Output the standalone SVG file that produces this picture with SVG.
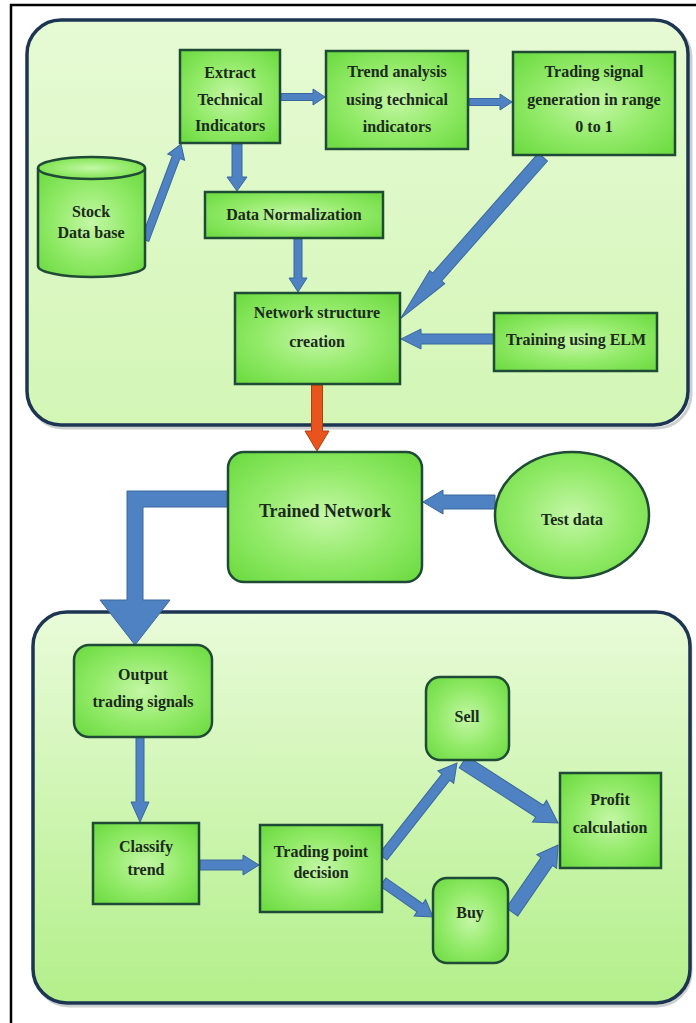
<svg xmlns="http://www.w3.org/2000/svg" width="696" height="1023" viewBox="0 0 696 1023">
  <defs>
    <radialGradient id="boxFill" cx="50%" cy="50%" r="65%">
      <stop offset="0" stop-color="#c4f7a6"/>
      <stop offset="0.55" stop-color="#92ea68"/>
      <stop offset="1" stop-color="#6fdc44"/>
    </radialGradient>
    <linearGradient id="panelTop" x1="0" y1="0" x2="0" y2="1">
      <stop offset="0" stop-color="#e6fad4"/>
      <stop offset="1" stop-color="#d3f6b6"/>
    </linearGradient>
    <linearGradient id="panelBottom" x1="0" y1="0" x2="0" y2="1">
      <stop offset="0" stop-color="#e9fbd9"/>
      <stop offset="1" stop-color="#b3ef8a"/>
    </linearGradient>
    <style>
      .panel { stroke: #1c3553; stroke-width: 3.5; }
      .shadow { fill: none; stroke: #9aa3a0; stroke-width: 3; opacity: 0.5; }
      .box { fill: url(#boxFill); stroke: #1f4a36; stroke-width: 2.5; }
      .lbl { font-family: "Liberation Serif", "Times New Roman", serif; font-weight: bold; font-size: 16px; fill: #1b2a1c; text-anchor: middle; }
      .big { font-size: 18px; }
      .arrow { fill: #4f82c2; stroke: #3a679e; stroke-width: 1; }
      .hot { fill: #e8541c; stroke: #b13e12; stroke-width: 1; }
      .frame { stroke: #000; stroke-width: 2.5; fill: none; }
    </style>
  </defs>

  <rect width="696" height="1023" fill="#ffffff"/>

  <!-- outer frame edges -->
  <path class="frame" d="M11,1023 V5 H696"/>

  <!-- processing panels -->
  <g id="panel-training">
    <rect class="shadow" x="29" y="23" width="662" height="405" rx="34"/>
    <rect class="panel" x="27" y="20" width="661" height="405" rx="34" fill="url(#panelTop)"/>
  </g>
  <g id="panel-trading">
    <rect class="shadow" x="35" y="615" width="656" height="391" rx="34"/>
    <rect class="panel" x="33" y="612" width="657" height="391" rx="34" fill="url(#panelBottom)"/>
  </g>

  <!-- connectors -->
  <g id="connectors">
    <!-- Stock Data base -> Extract -->
    <g transform="translate(145,240) rotate(-69.4)"><polygon class="arrow" points="0,-4 88.5,-4 88.5,-9 102.5,0 88.5,9 88.5,4 0,4"/></g>
    <!-- Extract -> Trend analysis -->
    <g transform="translate(281,97)"><polygon class="arrow" points="0,-3.5 32,-3.5 32,-8 44,0 32,8 32,3.5 0,3.5"/></g>
    <!-- Trend analysis -> Trading signal -->
    <g transform="translate(469,102)"><polygon class="arrow" points="0,-3.5 31,-3.5 31,-8 43,0 31,8 31,3.5 0,3.5"/></g>
    <!-- Extract -> Data Normalization -->
    <g transform="translate(237,144) rotate(90)"><polygon class="arrow" points="0,-5 33,-5 33,-10 47,0 33,10 33,5 0,5"/></g>
    <!-- Data Normalization -> Network structure -->
    <g transform="translate(298,239) rotate(90)"><polygon class="arrow" points="0,-4 39,-4 39,-9 53,0 39,9 39,4 0,4"/></g>
    <!-- Trading signal -> Network structure -->
    <g transform="translate(543,157) rotate(131.4)"><polygon class="arrow" points="0,-6 160,-6 160,-10 215,0 160,10 160,6 0,6"/></g>
    <!-- Training using ELM -> Network structure -->
    <g transform="translate(494,339) rotate(180)"><polygon class="arrow" points="0,-5 73,-5 73,-10 93,0 73,10 73,5 0,5"/></g>
    <!-- Network structure -> Trained Network -->
    <g transform="translate(317,385) rotate(90)"><polygon class="hot" points="0,-5.5 46,-5.5 46,-12 66,0 46,12 46,5.5 0,5.5"/></g>
    <!-- Test data -> Trained Network -->
    <g transform="translate(495,502) rotate(180)"><polygon class="arrow" points="0,-7 52,-7 52,-12 72,0 52,12 52,7 0,7"/></g>
    <!-- Trained Network -> Output trading signals -->
    <polygon class="arrow" points="229,491 127,491 127,600 100,600 135,645 170,600 143,600 143,507 229,507"/>
    <!-- Output trading signals -> Classify trend -->
    <g transform="translate(140,737) rotate(90)"><polygon class="arrow" points="0,-4 65,-4 65,-9 85,0 65,9 65,4 0,4"/></g>
    <!-- Classify trend -> Trading point decision -->
    <g transform="translate(200,865)"><polygon class="arrow" points="0,-5 43,-5 43,-10 59,0 43,10 43,5 0,5"/></g>
    <!-- Trading point decision -> Sell -->
    <g transform="translate(383,857) rotate(-51.8)"><polygon class="arrow" points="0,-5 101.6,-5 101.6,-10 119.6,0 101.6,10 101.6,5 0,5"/></g>
    <!-- Trading point decision -> Buy -->
    <g transform="translate(383,882) rotate(35)"><polygon class="arrow" points="0,-5 45,-5 45,-10 61,0 45,10 45,5 0,5"/></g>
    <!-- Sell -> Profit calculation -->
    <g transform="translate(463,762) rotate(32.7)"><polygon class="arrow" points="0,-7 90.9,-7 90.9,-13 112.9,0 90.9,13 90.9,7 0,7"/></g>
    <!-- Buy -> Profit calculation -->
    <g transform="translate(512,912) rotate(-55.5)"><polygon class="arrow" points="0,-7 61.3,-7 61.3,-12 81.3,0 61.3,12 61.3,7 0,7"/></g>
  </g>

  <!-- nodes: training stage -->
  <g id="stock-db">
    <path class="box" d="M38,168 V266 A53.5,11 0 0 0 145,266 V168"/>
    <ellipse class="box" cx="91.5" cy="168" rx="53.5" ry="11"/>
    <text class="lbl" x="91" y="217">Stock</text>
    <text class="lbl" x="91" y="238">Data base</text>
  </g>
  <g id="extract">
    <rect class="box" x="180" y="50" width="100" height="93"/>
    <text class="lbl" x="230" y="78">Extract</text>
    <text class="lbl" x="230" y="105">Technical</text>
    <text class="lbl" x="230" y="131">Indicators</text>
  </g>
  <g id="trend-analysis">
    <rect class="box" x="326" y="51" width="142" height="98"/>
    <text class="lbl" x="397" y="77">Trend analysis</text>
    <text class="lbl" x="397" y="105">using technical</text>
    <text class="lbl" x="397" y="132">indicators</text>
  </g>
  <g id="trading-signal">
    <rect class="box" x="513" y="52" width="162" height="103"/>
    <text class="lbl" x="594" y="77">Trading signal</text>
    <text class="lbl" x="594" y="105">generation in range</text>
    <text class="lbl" x="594" y="132">0 to 1</text>
  </g>
  <g id="data-normalization">
    <rect class="box" x="205" y="192" width="178" height="46"/>
    <text class="lbl" x="294" y="220">Data Normalization</text>
  </g>
  <g id="network-structure">
    <rect class="box" x="235" y="293" width="165" height="91"/>
    <text class="lbl" x="317" y="318">Network structure</text>
    <text class="lbl" x="317" y="347">creation</text>
  </g>
  <g id="training-elm">
    <rect class="box" x="494" y="313" width="163" height="58"/>
    <text class="lbl" x="576" y="345">Training using ELM</text>
  </g>

  <!-- nodes: trained model and input -->
  <g id="trained-network">
    <rect class="box" x="228" y="452" width="194" height="130" rx="16"/>
    <text class="lbl big" x="325" y="517">Trained Network</text>
  </g>
  <g id="test-data">
    <ellipse class="box" cx="572" cy="515" rx="77" ry="63"/>
    <text class="lbl" x="572" y="525">Test data</text>
  </g>

  <!-- nodes: trading stage -->
  <g id="output-signals">
    <rect class="box" x="74" y="645" width="138" height="92" rx="15"/>
    <text class="lbl" x="143" y="680">Output</text>
    <text class="lbl" x="143" y="707">trading signals</text>
  </g>
  <g id="classify-trend">
    <rect class="box" x="93" y="823" width="106" height="81"/>
    <text class="lbl" x="146" y="852">Classify</text>
    <text class="lbl" x="146" y="875">trend</text>
  </g>
  <g id="trading-point">
    <rect class="box" x="260" y="825" width="122" height="87"/>
    <text class="lbl" x="321" y="857">Trading point</text>
    <text class="lbl" x="321" y="878">decision</text>
  </g>
  <g id="sell">
    <rect class="box" x="426" y="677" width="83" height="83" rx="14"/>
    <text class="lbl" x="467" y="722">Sell</text>
  </g>
  <g id="buy">
    <rect class="box" x="433" y="878" width="75" height="85" rx="14"/>
    <text class="lbl" x="470" y="918">Buy</text>
  </g>
  <g id="profit">
    <rect class="box" x="560" y="773" width="101" height="95"/>
    <text class="lbl" x="610" y="805">Profit</text>
    <text class="lbl" x="610" y="833">calculation</text>
  </g>
</svg>
